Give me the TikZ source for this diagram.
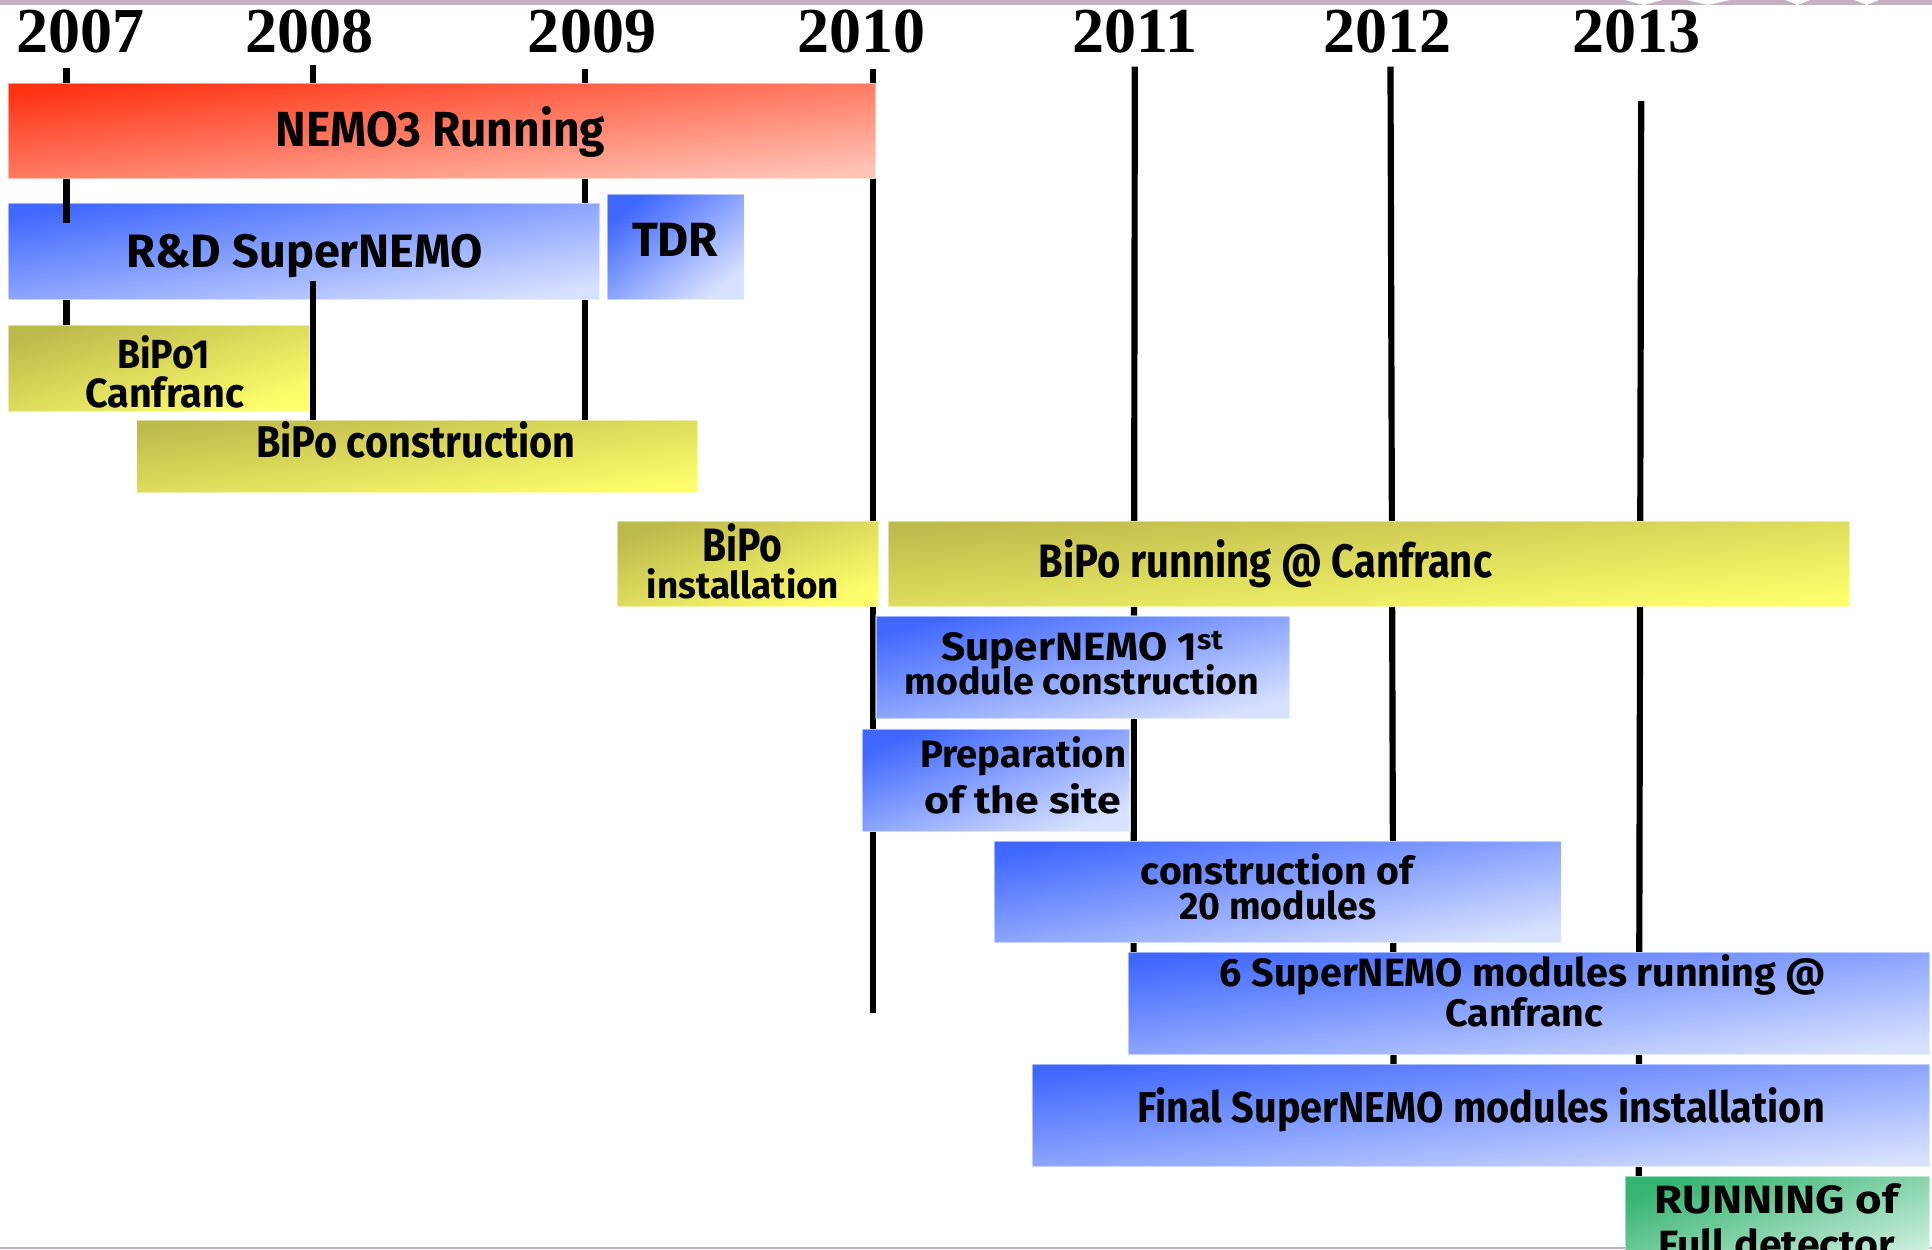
\documentclass[tikz,border=0pt]{standalone}
\usepackage{fontspec}
\usepackage{graphicx}
\newfontfamily\barfont{Fira Sans}
\newfontfamily\yearfont{Liberation Serif}
\definecolor{redA}{HTML}{FF3212}
\definecolor{redB}{HTML}{FFC4B6}
\definecolor{blueA}{HTML}{4068FF}
\definecolor{blueB}{HTML}{D8E1FF}
\definecolor{yelA}{HTML}{BDBA4C}
\definecolor{yelB}{HTML}{FFFF6C}
\definecolor{grnA}{HTML}{36B472}
\definecolor{grnB}{HTML}{D8F3E6}
\definecolor{mauve}{HTML}{C5B0C1}
\tikzset{
  tlbox/.style={rectangle, inner sep=0pt, outer sep=0pt, draw=white, draw opacity=0.5, line width=1pt},
  redbox/.style={tlbox, top color=redA, bottom color=redB},
  bluebox/.style={tlbox, top color=blueA, bottom color=blueB},
  yelbox/.style={tlbox, top color=yelA, bottom color=yelB},
  grnbox/.style={tlbox, top color=grnA, bottom color=grnB},
  yearline/.style={line width=5pt, black},
  lbl/.style={inner sep=0pt, anchor=base, font=\barfont\bfseries},
  yearlbl/.style={inner sep=0pt, anchor=base, font=\yearfont\bfseries\fontsize{52}{52}\selectfont},
}
\newcommand\tlrect[6]{%
  \pgfmathsetmacro\tlang{atan((#5-#3)/(#4-#2))}%
  \node[#6, shading angle=\tlang, minimum width={(#4-#2)*1pt}, minimum height={(#5-#3)*1pt}] (#1) at ({(#2+#4)/2},{(#3+#5)/2}) {};}
\newcommand\tltext[6]{\node[lbl] (#1) at (#2,#3) {\fontsize{#4}{#4}\selectfont\resizebox{#5pt}{\height}{#6}};}
\begin{document}
\begin{tikzpicture}[x=1pt,y=-1pt]
\useasboundingbox (0,0) rectangle (1568,1014);
\clip (0,0) rectangle (1568,1014);
\fill[white] (0,0) rectangle (1568,1014);
% top and bottom bands
\fill[mauve] (0,0) rectangle (1568,4);
\fill[white] (1319,0) -- (1349,0) -- (1334,4) -- cycle;
\fill[white] (1369,0) -- (1404,0) -- (1386,4) -- cycle;
\fill[white] (1449,0) -- (1469,0) -- (1459,4) -- cycle;
\fill[white] (1505,0) -- (1525,0) -- (1515,4) -- cycle;
\fill[mauve] (0,1012) rectangle (1568,1014);
% year labels
\node[yearlbl] (y2007) at (65,43) {2007};
\node[yearlbl] (y2008) at (251.5,43) {2008};
\node[yearlbl] (y2009) at (480.5,43) {2009};
\node[yearlbl] (y2010) at (699.5,43) {2010};
\node[yearlbl] (y2011) at (921,43) {2011};
\node[yearlbl] (y2012) at (1126,43) {2012};
\node[yearlbl] (y2013) at (1328.5,43) {2013};
% year lines (behind)
\draw[yearline] (54,55) -- (54,265);
\draw[yearline] (254,53) -- (254,68);
\draw[yearline] (474.5,56) -- (474.5,341);
\draw[yearline] (708.5,56) -- (708.5,822);
\draw[yearline] (921,54) -- (920,773);
\draw[yearline] (1128.5,54) -- (1131,864);
\draw[yearline] (1332,82) -- (1330,955);
% bars
\tlrect{nemo}{7}{68}{710.5}{145}{redbox}
\tlrect{rd}{7}{165}{487}{243}{bluebox}
\tlrect{tdr}{493}{158}{604}{243}{bluebox}
\tlrect{bipoone}{7}{264}{251}{334}{yelbox}
\tlrect{bipoc}{111}{341}{566}{400}{yelbox}
\tlrect{bipoi}{501}{423}{713}{492}{yelbox}
\tlrect{bipor}{721}{423}{1501}{492}{yelbox}
\tlrect{snone}{711}{500}{1047}{583}{bluebox}
\tlrect{prep}{700}{592}{917}{675}{bluebox}
\tlrect{ctwenty}{807}{683}{1267}{765}{bluebox}
\tlrect{snsix}{916}{773}{1566}{856}{bluebox}
\tlrect{final}{838}{864}{1566}{947}{bluebox}
\tlrect{full}{1319}{955}{1566}{1040}{grnbox}
% overlay line pieces
\draw[yearline] (54,165) -- (54,181);
\draw[yearline] (254,228) -- (254,341);
% labels
\tltext{tnemo}{357.5}{119}{40}{267}{NEMO3 Running}
\tltext{trd}{247.5}{217}{38}{289}{R\&D SuperNEMO}
\tltext{ttdr}{548}{208}{39}{70}{TDR}
\tltext{tbipoa}{132.5}{299}{33}{75}{BiPo1}
\tltext{tbipob}{133.5}{331}{33}{129}{Canfranc}
\tltext{tbipoc}{337.5}{371}{36}{259}{BiPo construction}
\tltext{tbipoia}{602.5}{456}{38}{65}{BiPo}
\tltext{tbipoib}{603}{486}{30}{156}{installation}
\tltext{tbipor}{1027}{469}{38}{368}{BiPo running @ Canfranc}
\tltext{tsnonea}{878.5}{536}{32}{229}{SuperNEMO 1\textsuperscript{st}}
\tltext{tsnoneb}{878}{564}{30}{288}{module construction}
\tltext{tprepa}{830.5}{623}{31}{167}{Preparation}
\tltext{tprepb}{830}{660}{30}{160}{of the site}
\tltext{tctwa}{1036.5}{718}{31}{221}{construction of}
\tltext{tctwb}{1037}{746}{31}{160}{20 modules}
\tltext{tsnsixa}{1236}{801}{32}{492}{6 SuperNEMO modules running @}
\tltext{tsnsixb}{1237}{833}{31}{128}{Canfranc}
\tltext{tfinal}{1202}{911}{35}{558}{Final SuperNEMO modules installation}
\tltext{tfulla}{1442}{985}{32}{198}{RUNNING of}
\tltext{tfullb}{1442}{1021}{32}{192}{Full detector}
\end{tikzpicture}
\end{document}
